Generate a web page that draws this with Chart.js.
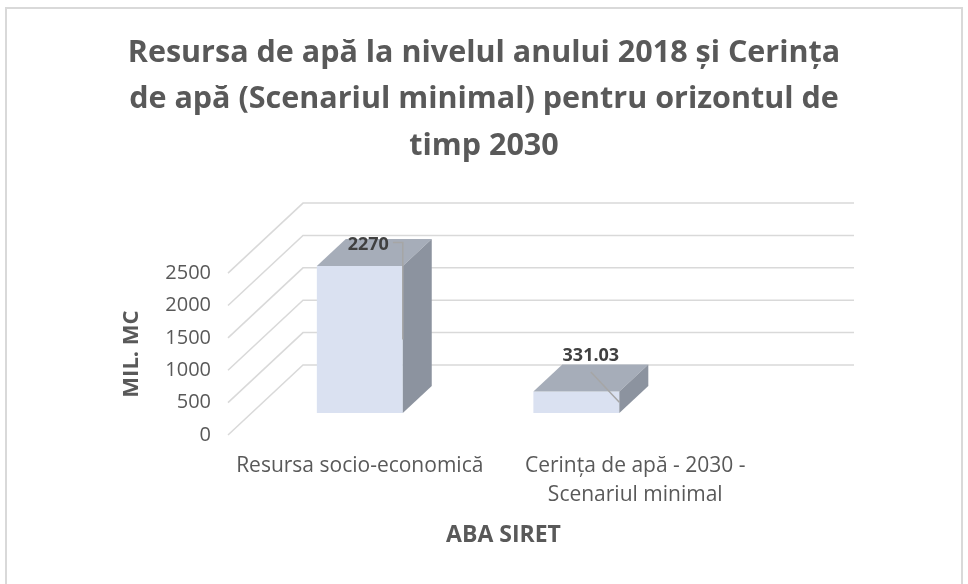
<!DOCTYPE html>
<html>
<head>
<meta charset="utf-8">
<title>Resursa de apă – ABA Siret</title>
<script src="https://cdn.jsdelivr.net/npm/chart.js@4.4.1/dist/chart.umd.min.js"></script>
<style>
  html, body { margin: 0; padding: 0; background: #ffffff; }
  #wrap { position: relative; width: 968px; height: 584px; }
</style>
</head>
<body>
<div id="wrap"><canvas id="chart" width="968" height="584"></canvas></div>
<script>
// ---- data ----
const categories = [
  'Resursa socio-economică',
  ['Cerința de apă - 2030 -', 'Scenariul minimal']
];
const values = [2270, 331.03];
const yTicks = [0, 500, 1000, 1500, 2000, 2500];
const chartTitle = [
  'Resursa de apă la nivelul anului 2018 și Cerința',
  'de apă (Scenariul minimal) pentru orizontul de',
  'timp 2030'
];
const yAxisTitle = 'MIL. MC';
const xAxisTitle = 'ABA SIRET';

// ---- look of the 3-D view ----
const FONT = "'Open Sans', 'Noto Sans', sans-serif";
const VIEW = {
  dx: 75, dy: -70,          // full depth of the floor, in pixels
  front: 0.314, back: 0.70, // depth span occupied by the columns
  spread: 0.786             // horizontal compression of the column row
};
const FACE = { front: '#DAE1F1', top: '#A6ADB9', side: '#8C939F' };
const GRID_COLOR = '#D9D9D9';
const TEXT_COLOR = '#595959';
const LABEL_COLOR = '#404040';
const LEADER_COLOR = '#A6A6A6';
const LABEL_NUDGE = [[-6, -8], [0, -22]];

const box3d = {
  id: 'box3d',
  beforeDraw(chart) {
    const ctx = chart.ctx;
    ctx.save();
    ctx.fillStyle = '#ffffff';
    ctx.fillRect(0, 0, chart.width, chart.height);
    ctx.strokeStyle = GRID_COLOR;
    ctx.lineWidth = 2;
    ctx.strokeRect(6, 8, chart.width - 12, chart.height + 10);
    ctx.restore();
  },
  beforeDatasetsDraw(chart) {
    const { ctx, chartArea: a } = chart;
    const ys = chart.scales.y;
    ctx.save();
    ctx.strokeStyle = GRID_COLOR;
    ctx.lineWidth = 1.5;
    ys.ticks.forEach(t => {
      const y = ys.getPixelForValue(t.value);
      ctx.beginPath();
      ctx.moveTo(a.left, y);
      ctx.lineTo(a.left + VIEW.dx, y + VIEW.dy);
      ctx.lineTo(a.right + VIEW.dx, y + VIEW.dy);
      ctx.stroke();
    });
    ctx.restore();
  },
  afterDatasetsDraw(chart) {
    const { ctx, chartArea: a } = chart;
    const meta = chart.getDatasetMeta(0);
    const bdx = (VIEW.back - VIEW.front) * VIEW.dx;
    const bdy = (VIEW.back - VIEW.front) * VIEW.dy;
    ctx.save();
    meta.data.forEach((el, i) => {
      const w = el.width;
      const cx = a.left + (el.x - a.left) * VIEW.spread;
      const x0 = cx - w / 2 + VIEW.front * VIEW.dx;
      const x1 = x0 + w;
      const yTop = el.y + VIEW.front * VIEW.dy;
      const yBot = el.base + VIEW.front * VIEW.dy;

      // front face
      ctx.fillStyle = FACE.front;
      ctx.fillRect(x0, yTop, w, yBot - yTop);
      // top face
      ctx.fillStyle = FACE.top;
      ctx.beginPath();
      ctx.moveTo(x0, yTop);
      ctx.lineTo(x1, yTop);
      ctx.lineTo(x1 + bdx, yTop + bdy);
      ctx.lineTo(x0 + bdx, yTop + bdy);
      ctx.closePath();
      ctx.fill();
      // side face
      ctx.fillStyle = FACE.side;
      ctx.beginPath();
      ctx.moveTo(x1, yTop);
      ctx.lineTo(x1 + bdx, yTop + bdy);
      ctx.lineTo(x1 + bdx, yBot + bdy);
      ctx.lineTo(x1, yBot);
      ctx.closePath();
      ctx.fill();

      // value label with leader line
      const text = String(values[i]);
      ctx.font = 'bold 18px ' + FONT;
      const tw = ctx.measureText(text).width;
      const nudge = LABEL_NUDGE[i] || [0, 0];
      const lx = x0 + w / 2 + bdx / 2 + nudge[0];
      const ly = yTop + bdy / 2 + nudge[1];
      const ax = x1;
      const ay = (yTop + yBot) / 2;
      ctx.strokeStyle = LEADER_COLOR;
      ctx.lineWidth = 1.5;
      ctx.beginPath();
      if (ax > lx + tw / 2 + 8) {
        ctx.moveTo(lx + tw / 2 + 4, ly - 2);
        ctx.lineTo(ax, ly - 2);
        ctx.lineTo(ax, ay);
      } else {
        ctx.moveTo(lx, ly + 16);
        ctx.lineTo(ax, ay);
      }
      ctx.stroke();
      ctx.fillStyle = LABEL_COLOR;
      ctx.textAlign = 'center';
      ctx.textBaseline = 'middle';
      ctx.fillText(text, lx, ly);
    });
    ctx.restore();
  }
};

new Chart(document.getElementById('chart'), {
  type: 'bar',
  data: {
    labels: categories,
    datasets: [{
      label: xAxisTitle,
      data: values,
      yAxisID: 'y',
      backgroundColor: 'rgba(0,0,0,0)',
      borderWidth: 0,
      categoryPercentage: 1,
      barPercentage: 0.312
    }]
  },
  plugins: [box3d],
  options: {
    responsive: false,
    animation: false,
    layout: { padding: 0 },
    plugins: {
      legend: { display: false },
      tooltip: { enabled: false },
      title: {
        display: true,
        text: chartTitle,
        color: TEXT_COLOR,
        font: { family: FONT, weight: 'bold', size: 30.5, lineHeight: 1.52 },
        padding: { top: 30, bottom: 104 }
      }
    },
    scales: {
      x: {
        type: 'category',
        offset: true,
        grid: { display: false, drawTicks: false },
        border: { display: false },
        ticks: {
          color: TEXT_COLOR,
          font: { family: FONT, size: 21, lineHeight: 1.38 },
          padding: 17,
          labelOffset: -6,
          maxRotation: 0,
          autoSkip: false
        },
        title: {
          display: true,
          text: xAxisTitle,
          color: TEXT_COLOR,
          font: { family: FONT, weight: 'bold', size: 23, lineHeight: 1.2 },
          padding: { top: 0, bottom: 35 }
        },
        afterFit: s => { s.height = 149; }
      },
      y: {
        type: 'linear',
        position: 'left',
        min: yTicks[0],
        max: yTicks[yTicks.length - 1],
        grid: { display: false, drawTicks: false },
        border: { display: false },
        ticks: {
          stepSize: yTicks[1] - yTicks[0],
          format: { useGrouping: false },
          color: TEXT_COLOR,
          font: { family: FONT, size: 20 },
          padding: 17
        },
        title: {
          display: true,
          text: yAxisTitle,
          color: TEXT_COLOR,
          font: { family: FONT, weight: 'bold', size: 22, lineHeight: 1.2 },
          padding: { top: 119, bottom: 0 }
        },
        afterFit: s => { s.width = 228; }
      },
      yRight: {
        type: 'linear',
        position: 'right',
        display: true,
        grid: { display: false, drawTicks: false },
        border: { display: false },
        ticks: { display: false },
        afterFit: s => { s.width = 189; }
      }
    }
  }
});
</script>
</body>
</html>
